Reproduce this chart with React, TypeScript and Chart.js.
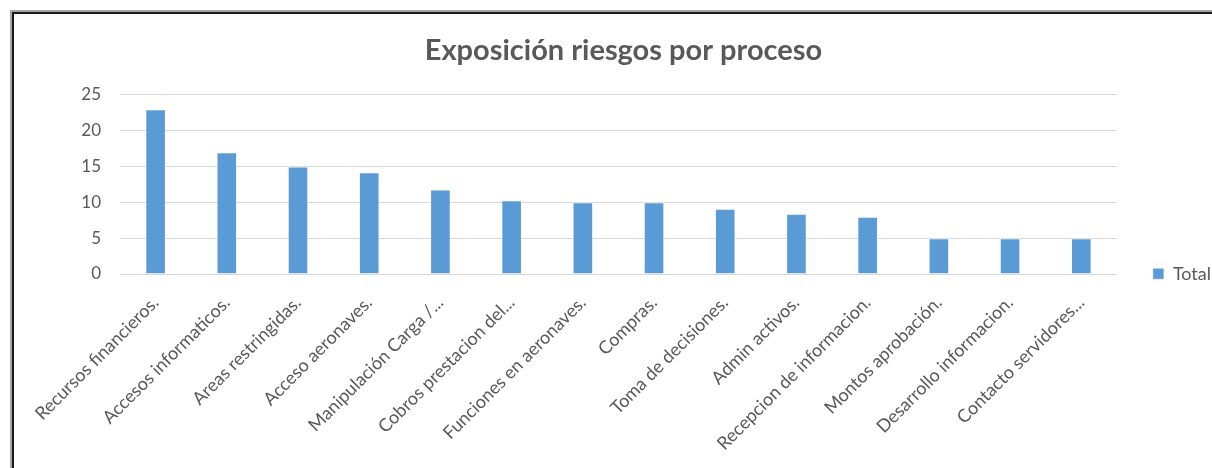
import React, { useEffect, useRef } from "react";
import { Chart, registerables } from "chart.js";

Chart.register(...registerables);

const categories = [
  "Recursos financieros.",
  "Accesos informaticos.",
  "Areas restringidas.",
  "Acceso aeronaves.",
  "Manipulación Carga /...",
  "Cobros prestacion del...",
  "Funciones en aeronaves.",
  "Compras.",
  "Toma de decisiones.",
  "Admin activos.",
  "Recepcion de informacion.",
  "Montos aprobación.",
  "Desarrollo informacion.",
  "Contacto servidores...",
];

const totals = [23, 17, 15, 14.2, 11.8, 10.3, 10, 10, 9.1, 8.4, 8, 5, 5, 5];

const yTicks = [0, 5, 10, 15, 20, 25];

const seriesLabel = "Total";
const chartTitle = "Exposición riesgos por proceso";

const textColor = "#595959";
const fontFamily = "Lato, 'Open Sans', sans-serif";

const LEGEND_PAD = 36;
const LEGEND_FONT = 18;
const TITLE_CENTER_X = 623.5;

const layoutTweaks = {
  id: "layoutTweaks",
  afterLayout(chart: any) {
    const l = chart.legend;
    if (l) {
      const itemH = LEGEND_FONT * 1.2;
      const current = l.bottom - itemH / 2 - LEGEND_PAD;
      const target = chart.chartArea.bottom - 2;
      const dy = target - current;
      l.top += dy;
      l.bottom += dy;
    }
    const t = chart.titleBlock;
    if (t) {
      const dx = TITLE_CENTER_X - (t.left + t.right) / 2;
      t.left += dx;
      t.right += dx;
    }
  },
};

export default function App() {
  const ref = useRef<HTMLCanvasElement>(null);

  useEffect(() => {
    document.body.style.margin = "0";
    const chart = new Chart(ref.current as HTMLCanvasElement, {
      type: "bar",
      data: {
        labels: categories,
        datasets: [
          {
            label: seriesLabel,
            data: totals,
            backgroundColor: "#5B9BD5",
            borderColor: "rgba(255,255,255,0.45)",
            borderWidth: 1,
            categoryPercentage: 1,
            barPercentage: 0.29,
          },
        ],
      },
      plugins: [layoutTweaks],
      options: {
        responsive: false,
        animation: false,
        devicePixelRatio: 1,
        layout: { padding: { left: 0, right: 26, top: 0, bottom: 0 } },
        plugins: {
          title: {
            display: true,
            text: chartTitle,
            color: textColor,
            font: { family: fontFamily, size: 29, weight: "bold" },
            padding: { top: 33, bottom: 27 },
          },
          legend: {
            position: "right",
            align: "end",
            fullSize: false,
            labels: {
              boxWidth: 11,
              boxHeight: 11,
              color: textColor,
              font: { family: fontFamily, size: LEGEND_FONT },
              padding: LEGEND_PAD,
            },
          },
          tooltip: { enabled: false },
        },
        scales: {
          x: {
            grid: { display: false, drawTicks: false },
            border: { display: true, color: "#d9d9d9" },
            ticks: {
              color: textColor,
              font: { family: fontFamily, size: 18 },
              minRotation: 45,
              maxRotation: 45,
              autoSkip: false,
              padding: 18,
            },
            afterFit: (s: any) => {
              s.height = 194;
            },
          },
          y: {
            min: 0,
            max: 25,
            afterBuildTicks: (s: any) => {
              s.ticks = yTicks.map((v) => ({ value: v }));
            },
            ticks: {
              color: textColor,
              font: { family: fontFamily, size: 17 },
              padding: 19,
            },
            grid: { color: "#d9d9d9", drawTicks: false },
            border: { display: false },
            afterFit: (s: any) => {
              s.width = 120;
            },
          },
        },
      },
    });
    return () => chart.destroy();
  }, []);

  return (
    <div
      style={{
        position: "relative",
        width: 1212,
        height: 468,
        overflow: "hidden",
        background: "#fff",
      }}
    >
      <div
        style={{
          position: "absolute",
          left: 10,
          top: 10,
          width: 1400,
          height: 700,
          borderTop: "2px solid #a6a6a6",
          borderLeft: "2px solid #a6a6a6",
        }}
      >
        <div
          style={{
            width: "100%",
            height: "100%",
            borderTop: "2px solid #1a1a1a",
            borderLeft: "2px solid #1a1a1a",
          }}
        />
      </div>
      <canvas
        ref={ref}
        width={1247}
        height={468}
        style={{ position: "absolute", left: 0, top: 0 }}
      />
    </div>
  );
}
